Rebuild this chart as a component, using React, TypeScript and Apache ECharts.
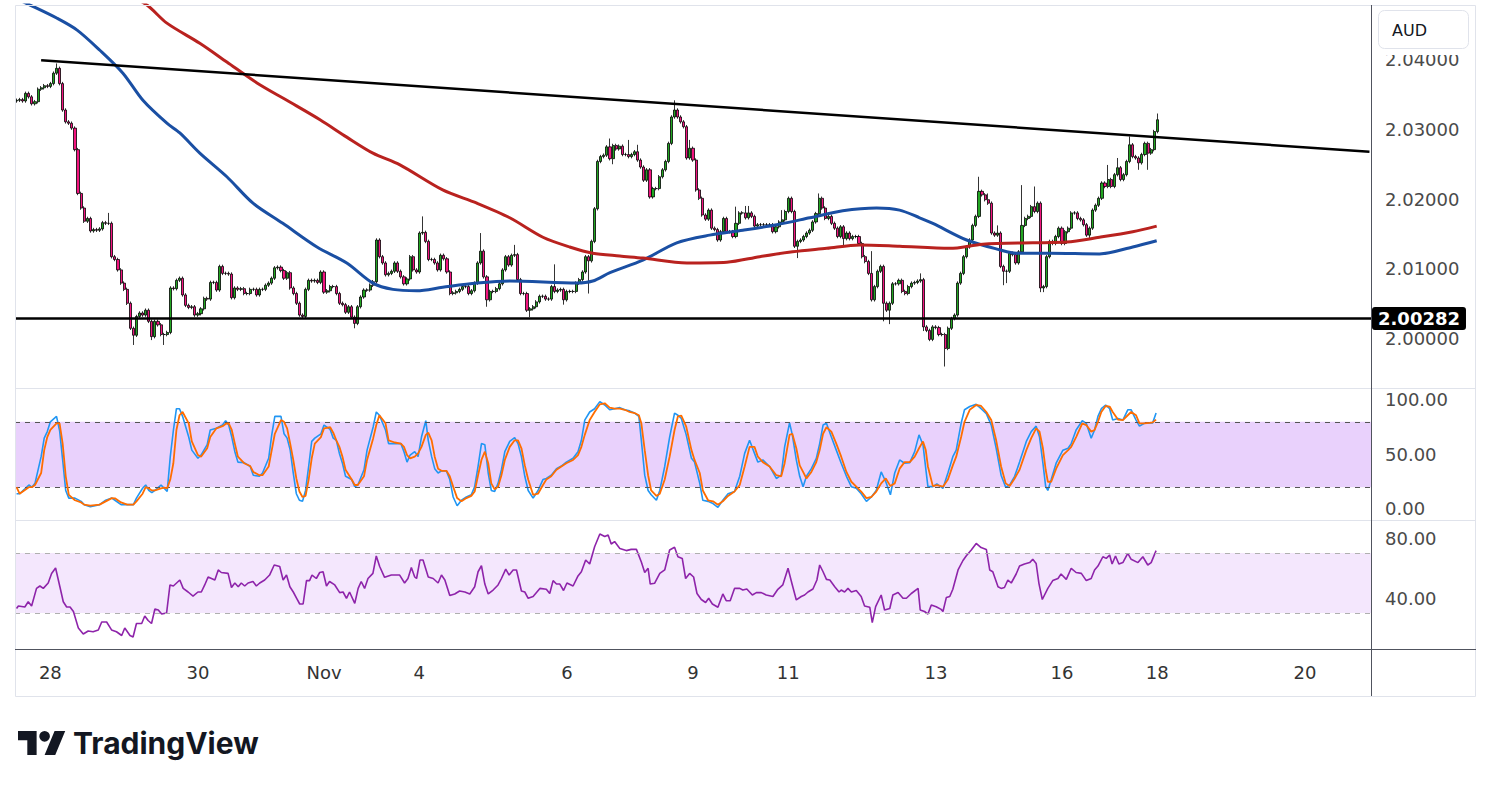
import React, { useEffect, useRef } from "react";
import * as echarts from "echarts";

// ---------- DATA ----------
// Hourly AUD price; values in pips (1e-4) above 2.0000
const BASE = 2.0;
const PIP = 0.0001;
const N_SLOTS = 441; // bar slots across the plot (incl. empty future space)

const firstOpen = 341;
const closes = [
  342, 343, 341, 352, 347, 337, 340, 358, 360, 363,
  362, 366, 381, 388, 366, 328, 311, 309, 302, 271,
  208, 187, 168, 172, 154, 156, 155, 157, 166, 165,
  165, 117, 113, 98, 79, 70, 50, 14, 4, 31,
  36, 33, 40, 24, 2, 24, 19, 5, 5, 8,
  72, 71, 83, 86, 62, 47, 44, 45, 33, 35,
  42, 57, 56, 80, 80, 69, 103, 93, 93, 92,
  58, 72, 70, 71, 64, 64, 70, 70, 62, 70,
  70, 76, 79, 86, 101, 102, 97, 86, 94, 72,
  64, 50, 33, 31, 70, 83, 82, 83, 80, 95,
  66, 68, 74, 74, 64, 50, 48, 37, 45, 30,
  21, 45, 59, 69, 69, 76, 81, 141, 117, 108,
  91, 93, 96, 108, 96, 88, 78, 85, 117, 98,
  95, 151, 152, 139, 113, 113, 108, 98, 119, 114,
  95, 64, 65, 67, 70, 74, 74, 64, 68, 79,
  108, 125, 88, 55, 67, 67, 71, 78, 98, 117,
  105, 119, 120, 84, 64, 64, 40, 42, 45, 52,
  60, 60, 56, 56, 74, 67, 69, 70, 55, 67,
  67, 67, 79, 84, 95, 117, 111, 139, 186, 254,
  261, 263, 275, 258, 277, 272, 276, 264, 264, 261,
  264, 268, 256, 246, 227, 242, 203, 215, 215, 232,
  242, 254, 280, 318, 328, 318, 311, 304, 259, 273,
  256, 213, 201, 177, 171, 184, 158, 156, 141, 153,
  172, 153, 153, 146, 165, 180, 180, 173, 180, 175,
  161, 163, 163, 163, 163, 163, 153, 160, 167, 170,
  182, 201, 182, 132, 139, 141, 146, 151, 155, 167,
  179, 201, 187, 172, 175, 165, 158, 146, 160, 143,
  151, 143, 146, 146, 136, 117, 110, 93, 55, 74,
  96, 103, 50, 40, 50, 78, 78, 83, 67, 64,
  74, 79, 80, 82, 84, 16, 11, -2, 16, 15,
  5, 5, -15, 14, 28, 33, 79, 93, 117, 131,
  141, 162, 175, 211, 206, 199, 194, 151, 148, 151,
  103, 96, 96, 122, 120, 108, 124, 162, 172, 175,
  189, 182, 194, 72, 74, 117, 139, 136, 146, 158,
  136, 153, 158, 180, 180, 172, 170, 163, 148, 158,
  184, 191, 201, 223, 218, 228, 218, 235, 245, 228,
  235, 254, 278, 261, 259, 252, 264, 280, 266, 271,
  297, 314,
];
const typicalWick = 2.5;
const highsAt: [number, number][] = [
  [13, 395], [30, 180], [132, 175], [151, 151], [162, 134], [175, 106], [193, 287], [199, 285],
  [202, 278], [214, 342], [219, 285], [234, 189], [237, 190], [238, 190], [249, 184], [261, 208],
  [278, 125], [294, 93], [313, 232], [316, 208], [319, 162], [327, 220], [331, 218], [355, 249],
  [358, 259], [362, 290], [371, 323],
];
const lowsAt: [number, number][] = [
  [38, -10], [44, -3], [48, -10], [110, 14], [153, 45], [167, 30], [178, 48], [186, 64],
  [194, 250], [254, 115], [269, 132], [282, 24], [284, 20], [295, 10], [302, -41], [321, 76],
  [322, 79], [333, 66], [334, 66], [349, 141], [365, 242], [368, 242],
];

// moving averages [bar index, pips]
const maBlue: [number, number][] = [
  [-0.5, 489], [4.4, 479], [13.2, 460], [19.7, 443], [27.1, 414], [34.6, 381], [41.1, 342],
  [48.9, 309], [53.1, 295], [59.6, 266], [68.4, 232], [76.9, 194], [86.6, 165], [97.7, 131],
  [107.4, 108], [115.9, 79], [122.4, 70], [130.2, 68], [138.6, 73], [149.7, 79], [160.4, 82],
  [182.2, 79], [187.4, 82], [193, 94], [203.7, 112], [214.7, 137], [225.4, 148], [236.2, 155],
  [247.2, 163], [258, 173], [268.7, 183], [279.7, 187], [287.2, 184], [293.7, 173], [298, 165],
  [309, 141], [319.7, 127], [325.2, 122], [336, 122], [352.2, 121], [363, 131], [370.8, 140],
];
const maRed: [number, number][] = [
  [33.6, 501], [42.4, 479], [48.9, 453], [59.6, 424], [68.4, 397], [78.2, 367], [87.9, 342],
  [98.7, 314], [107.4, 289], [115.9, 266], [124.7, 249], [138.6, 213], [149.7, 194], [160.4, 173],
  [171.2, 145], [179.9, 131], [187.4, 122], [196.2, 118], [203.7, 115], [218, 108], [231, 109],
  [241.7, 117], [252.4, 124], [263.5, 129], [274.2, 134], [287.2, 132], [303.5, 129], [314.2, 135],
  [330.5, 137], [341.5, 138], [352.2, 145], [363, 153], [370.8, 161],
];
const trendLine: [number, number][] = [[8, 399.5], [440, 268]];
const supportLevel = 2.00282;

// Stochastic %K / %D  [bar index, value]
const stochK: [number, number][] = [
  [0, 14], [1, 14], [4, 22], [5, 20], [6, 23.5], [8, 48], [9, 65], [10, 71], [11, 80], [13, 85], [14, 72],
  [15, 45], [16, 17], [17, 10], [19, 10], [21, 7], [22, 4], [24, 2], [27, 4], [29, 8], [31, 10], [32, 8],
  [34, 4], [36, 4], [38, 4], [39, 10], [41, 19], [42, 22], [43, 17], [44, 15], [45, 17], [47, 22], [48, 19],
  [49, 16], [50, 48], [51, 72], [52, 92], [53, 92], [54, 85], [56, 66], [57, 54], [59, 46.5], [60, 49.5],
  [62, 59], [63, 72.5], [65, 74], [67, 77], [68, 81], [69, 77], [70, 66], [71, 52.6], [72, 43], [74, 42.5],
  [76, 39], [77, 31], [79, 30], [80, 33], [82, 46.5], [83, 68], [84, 85], [86, 85], [87, 69], [88, 65],
  [89, 54], [90, 33], [91, 14], [92, 8], [93, 7], [94, 17], [95, 39], [96, 62], [97, 65], [99, 69],
  [100, 77], [102, 73], [103, 65], [104, 63], [105, 51], [106, 42], [107, 30], [109, 27], [110, 20.5],
  [111, 22], [113, 36], [114, 54], [116, 75.5], [117, 89], [118, 86], [120, 72.5], [121, 60], [123, 60],
  [125, 60], [126, 52.6], [127, 43], [128, 49.5], [129.5, 52.6], [130.6, 48], [131.7, 66], [133.1, 81],
  [133.9, 63], [135, 48], [136, 37], [137.1, 33], [138.2, 35], [139.8, 35], [140.9, 27], [142, 11],
  [143.3, 3], [144.7, 8], [146.3, 11], [147.9, 13], [149, 20.5], [150.1, 39], [151.2, 60], [152.3, 59],
  [153.4, 33], [154.4, 17], [155.5, 16], [156.6, 23.5], [157.7, 36], [158.8, 52.6], [160.4, 62], [162, 65.4],
  [163.1, 60], [164.2, 48], [165.3, 30], [166.4, 17], [168, 10], [169.6, 17], [171.2, 27], [172.3, 28],
  [173.9, 31], [175.6, 37], [177.2, 39.4], [178.8, 43], [181, 46.5], [182.6, 52.6], [183.7, 63],
  [184.8, 81.6], [186.4, 89], [188, 92], [189.7, 98.5], [191.3, 95.4], [192.9, 91], [194.5, 92],
  [196.2, 93], [197.8, 91], [199.4, 90], [201, 88], [202.4, 85], [203.2, 63], [204.3, 31], [205.4, 17],
  [206.4, 13], [208.1, 8], [209.2, 17], [210.8, 39], [212.4, 66], [214, 88], [215.1, 86], [216.2, 83],
  [217.8, 68], [219.5, 46.5], [220.5, 43], [222.2, 23.5], [223.2, 8], [224.9, 7], [226.5, 5], [228.1, 1.5],
  [229.7, 8], [231.4, 14], [233.5, 16], [235.2, 30], [236.8, 51], [238.4, 63], [240, 51], [241.1, 43],
  [242.7, 45], [244.9, 39], [247.1, 28], [248.7, 31], [249.8, 57], [251.4, 79], [252.3, 68], [253.6, 45],
  [254.7, 30], [255.8, 20.5], [256.9, 30], [258.5, 37], [260.1, 46.5], [261.2, 60], [262.3, 77],
  [263.4, 78.6], [265, 66], [266.6, 54], [268.2, 42], [269.9, 30], [271.5, 20.5], [273.1, 19], [274.7, 14],
  [276.4, 7], [278, 11], [279.6, 17], [281.2, 34], [282.7, 25], [284.2, 13], [285.6, 33], [287.2, 45],
  [288.8, 42], [290.5, 42.5], [292.1, 52.6], [293.5, 68], [294.8, 59], [295.7, 37], [296.4, 20.5],
  [298, 20.5], [299.3, 23], [301.3, 19], [302.9, 33], [304.5, 48], [305.6, 54], [307.2, 78.6], [308.3, 91],
  [310, 94], [312.1, 96], [313.7, 92], [315.4, 87.5], [317, 77], [318.6, 55.7], [320.2, 31], [321.7, 20],
  [323, 22], [324.6, 30], [326.2, 43], [328.4, 62], [330, 71], [331.6, 76], [332.7, 66], [333.8, 42],
  [334.7, 20.5], [335.4, 17], [336.5, 27], [338.1, 42], [340.3, 54], [342, 55.7], [343, 60], [344.6, 72.5],
  [346.6, 81], [347.9, 78.6], [349.5, 65], [350.6, 72.5], [351.7, 85], [352.8, 92], [354.2, 95.4],
  [355.5, 92], [356.5, 81.6], [358.2, 83], [359.8, 81.6], [361.4, 91], [362.5, 91], [364.1, 81.6],
  [365.2, 76], [366.8, 78.6], [368.5, 79], [369.5, 79], [370.6, 88],
];
const stochD: [number, number][] = [
  [0, 20], [1, 14], [4, 20], [5, 20], [6, 22], [8, 33], [9, 54], [10, 66], [11, 72.5], [13, 78.6], [14, 78.6],
  [15, 60], [16, 30], [17, 13], [19, 8], [21, 6], [22, 4], [24, 3], [27, 4], [29, 7], [31, 10], [32, 9.8],
  [34, 6], [36, 4], [38, 4], [39, 7], [41, 14], [42, 20], [43, 19], [44, 17], [45, 17], [47, 19], [48, 19.6],
  [49, 19], [50, 27], [51, 42], [52, 72.5], [53, 86], [54, 89], [56, 78.6], [57, 62], [59, 49.5], [60, 48],
  [62, 55.7], [63, 66], [65, 74], [67, 76], [68, 78], [69, 78.6], [70, 72.5], [71, 60], [72, 48], [74, 42],
  [76, 39.4], [77, 34], [79, 31], [80, 31], [82, 39], [83, 54], [84, 69], [86, 81.6], [87, 80], [88, 74],
  [89, 60], [90, 45], [91, 28], [92, 16], [93, 11], [94, 12], [95, 27], [96, 46.5], [97, 60], [99, 66],
  [100, 74], [102, 75], [103, 70], [104, 63], [105, 57], [106, 48], [107, 36], [109, 27], [110, 22],
  [111, 22], [113, 30], [114, 45], [116, 65], [117, 77], [118, 86], [120, 78.6], [121, 63], [123, 61],
  [125, 60], [126, 57], [127, 49.5], [128, 46.5], [129.5, 48], [130.6, 51], [131.7, 57], [133.1, 68],
  [133.9, 70], [135, 63], [136, 48], [137.1, 37], [138.2, 35], [139.8, 35], [140.9, 30], [142, 20.5],
  [143.3, 10], [144.7, 7], [146.3, 10], [147.9, 12], [149, 16], [150.1, 31], [151.2, 45], [152.3, 52.6],
  [153.4, 42], [154.4, 23.5], [155.5, 18], [156.6, 20.5], [157.7, 31], [158.8, 45], [160.4, 57], [162, 63],
  [163.1, 63], [164.2, 55.7], [165.3, 40], [166.4, 27], [168, 13], [169.6, 14], [171.2, 22], [172.3, 27],
  [173.9, 30], [175.6, 36], [177.2, 39], [178.8, 42], [181, 45], [182.6, 49.5], [183.7, 57], [184.8, 68],
  [186.4, 81.6], [188, 89], [189.7, 96], [191.3, 97], [192.9, 93], [194.5, 92], [196.2, 92], [197.8, 91],
  [199.4, 89], [201, 88], [202.4, 86], [203.2, 78.6], [204.3, 54], [205.4, 31], [206.4, 17], [208.1, 12],
  [209.2, 14], [210.8, 27], [212.4, 48], [214, 72.5], [215.1, 85], [216.2, 85.6], [217.8, 75.5],
  [219.5, 54], [220.5, 45], [222.2, 33], [223.2, 17], [224.9, 8], [226.5, 7], [228.1, 4], [229.7, 7],
  [231.4, 12], [233.5, 16], [235.2, 22], [236.8, 39], [238.4, 57], [240, 57], [241.1, 48], [242.7, 43],
  [244.9, 39], [247.1, 31], [248.7, 30], [249.8, 42], [251.4, 68], [252.3, 69], [253.6, 55.7], [254.7, 40],
  [255.8, 34], [256.9, 28], [258.5, 34], [260.1, 43], [261.2, 54], [262.3, 69], [263.4, 75], [265, 71],
  [266.6, 60], [268.2, 48], [269.9, 34], [271.5, 25], [273.1, 20.5], [274.7, 16], [276.4, 10], [278, 11],
  [279.6, 16], [281.2, 23.5], [282.7, 28], [284.2, 21], [285.6, 23.5], [287.2, 37], [288.8, 43],
  [290.5, 43], [292.1, 48], [293.5, 55.7], [294.8, 62], [295.7, 54], [296.4, 39], [298, 21], [299.3, 22],
  [301.3, 20.5], [302.9, 27], [304.5, 40], [305.6, 48], [307.2, 66], [308.3, 80], [310, 91], [312.1, 95.4],
  [313.7, 94.5], [315.4, 89], [317, 81.6], [318.6, 63], [320.2, 39], [321.7, 23.5], [323, 21], [324.6, 28],
  [326.2, 36], [328.4, 54], [330, 65], [331.6, 74], [332.7, 71], [333.8, 55.7], [334.7, 36], [335.4, 25],
  [336.5, 25], [338.1, 37], [340.3, 49.5], [342, 54], [343, 57], [344.6, 66], [346.6, 78.6], [347.9, 77],
  [349.5, 71], [350.6, 72.5], [351.7, 80], [352.8, 89], [354.2, 94.5], [355.5, 94], [356.5, 89],
  [358.2, 82], [359.8, 81.6], [361.4, 86], [362.5, 89], [364.1, 86], [365.2, 78.6], [366.8, 78.6],
  [368.5, 79], [369.5, 79.5], [370.6, 82],
];

// RSI [bar index, value]
const rsi: [number, number][] = [
  [0, 33], [0.6, 34.7], [2.7, 34], [3.8, 37.5], [4.9, 34.7], [6.5, 46.4], [7.6, 48], [8.7, 46.4], [10.3, 50],
  [11.4, 56.4], [12.7, 60], [14.1, 47.5], [15.2, 37.5], [16.3, 34], [17.4, 34], [18.5, 31], [20.1, 20],
  [21.7, 16], [23.3, 18], [24.9, 17.5], [26.6, 18.7], [27.7, 24], [29.3, 24], [30.9, 18.7], [32.5, 17.5],
  [34.2, 15], [35.2, 20], [36.9, 15], [37.9, 14], [39, 23], [40.7, 23], [41.7, 28], [42.8, 25], [43.9, 23],
  [45, 32.7], [46.1, 32], [47.2, 29.3], [48.8, 30], [49.9, 48.7], [51, 48], [53.1, 52], [54.2, 46.4],
  [55.8, 44], [57.4, 41.3], [59, 44], [60.1, 44], [61.2, 48.7], [62.3, 54], [63.4, 53], [64.5, 52],
  [65.6, 58.7], [66.6, 57], [68.8, 56.4], [69.9, 47], [71, 50], [72.1, 47.5], [73.1, 50], [74.2, 48],
  [75.3, 50], [76.9, 51], [78, 48], [79.1, 50], [80.7, 52], [82.3, 55.3], [83.8, 62], [85.6, 61], [86.7, 52],
  [87.8, 55.3], [88.9, 47.5], [90, 44], [91.1, 39.8], [92.1, 36], [93.2, 36], [94.3, 51.6], [95.3, 51.6],
  [96.1, 55.3], [97.5, 53], [98.6, 57], [99.7, 57.5], [100.8, 48], [101.8, 51], [103.5, 48.7], [105.1, 43.6],
  [106.2, 44], [107.3, 39.8], [108.3, 44], [110, 36.4], [111.1, 46.4], [112.1, 51], [113.2, 46.4],
  [114.3, 53], [115.9, 56.4], [117, 68], [118.1, 61], [119.7, 53.8], [121.9, 55.3], [124.6, 55.3],
  [126.2, 50], [127.3, 53], [128.4, 60.4], [129.5, 54], [130.1, 53], [131.2, 65.3], [132.2, 65.3],
  [133.9, 54], [135.5, 53], [137.1, 50], [138.2, 55.3], [139.3, 52], [140.9, 41.6], [142.5, 42.7],
  [144.1, 44.7], [145.8, 44], [147.4, 42.7], [149, 47.5], [150.1, 57.5], [151.2, 61.5], [152.3, 49.3],
  [153.4, 42.7], [155, 45.3], [156.6, 48.7], [157.7, 53], [159.1, 59.3], [160.2, 55.3], [161.5, 58.7],
  [162.6, 58.7], [164.2, 44.7], [165.3, 44], [166.4, 39.8], [168, 41], [170.2, 46.4], [172.3, 45.8],
  [173.4, 43], [174.5, 51.6], [175.6, 49.3], [176.7, 49.3], [177.9, 45], [179, 50], [181, 48],
  [182.6, 54.7], [183.7, 57.5], [185.1, 65.3], [186.4, 62.7], [188, 74.2], [189.7, 82.7], [191.3, 81],
  [192.4, 82], [193.4, 76], [194.5, 77.6], [196.2, 73], [198.3, 71.6], [199.9, 72.4], [201.6, 72.4],
  [203.2, 64], [204.3, 57], [205.4, 59.8], [206.1, 49.3], [207.5, 49.8], [209.2, 56.4], [210.8, 58.7],
  [212.4, 72], [214, 73.8], [215.1, 67.5], [216.5, 66.4], [217.6, 53], [218.9, 56.4], [220.2, 54],
  [221.3, 43], [222.7, 39], [224.1, 37], [225.1, 39.8], [226.3, 36], [228.1, 33.8], [229.7, 42.7],
  [230.8, 38.2], [232.1, 38.2], [233.5, 46.4], [235.2, 46.4], [236.2, 45.3], [237.5, 46], [239.3, 42],
  [240.6, 43.6], [242.2, 43.6], [243.8, 42], [246, 41], [247.6, 45.8], [249.2, 48.7], [250.9, 59.8],
  [252.3, 48.7], [253.6, 38.7], [255.2, 41], [256.3, 42], [257.4, 44], [259, 46], [260.3, 52], [261.2, 62],
  [262.3, 57.5], [263.4, 52.4], [264.5, 52], [266.1, 47.5], [267.5, 44], [268.2, 45.3], [269.3, 44],
  [270.4, 46.4], [271.5, 44], [273.1, 45], [274.7, 41], [275.8, 34.7], [277.5, 33.8], [278.3, 23.6],
  [279.4, 34.2], [281.2, 42], [282.3, 32], [284, 33], [285, 42], [286.7, 43.6], [288.3, 39.8], [289.4, 39.8],
  [291, 43], [293.2, 46.4], [293.9, 32], [295.3, 31], [296.4, 29.3], [297.5, 35.3], [299.1, 34.2],
  [300.7, 32.4], [301.3, 31], [302.4, 40.4], [303.5, 41], [304.5, 45.8], [306.2, 58.7], [307.8, 65],
  [308.9, 68.2], [310.5, 72], [312.1, 76.4], [313.7, 73.6], [315.4, 72.4], [316.5, 58.7], [317.5, 57.5],
  [319.2, 47.5], [320.2, 46.4], [321.3, 47], [322.4, 52], [323.5, 50], [325.1, 56], [326.2, 61.3],
  [327.8, 62.7], [329.5, 63.6], [330.5, 65.8], [331.6, 63], [332.5, 49.8], [333.6, 39], [335.4, 46.4],
  [337, 51.6], [338.7, 53], [339.7, 56], [341.4, 52.4], [343, 59.8], [344.6, 57], [346.3, 56.4],
  [347.9, 51.6], [349.5, 53], [350.6, 58.7], [351.7, 61.3], [353.3, 67.5], [354.4, 66.4], [355.5, 68.7],
  [356.3, 62.7], [357.4, 68], [358.5, 62.7], [359.8, 63.6], [361.4, 69.8], [362.5, 65.8], [364.7, 63.6],
  [366.3, 67.5], [367.9, 62], [369, 63.6], [370.6, 71.6],
];

// axis ticks
const xTickIndex = [11, 59, 100, 131, 179, 220, 251, 299, 340, 371, 419];
const xTickText = ["28", "30", "Nov", "4", "6", "9", "11", "13", "16", "18", "20"];
const priceTicks = [2.0, 2.01, 2.02, 2.03, 2.04];
const stochTicks = [0, 50, 100];
const rsiTicks = [40, 80];

// ---------- helpers ----------
const price = (p: number) => +(BASE + p * PIP).toFixed(5);
const toPrice = (arr: [number, number][]) => arr.map(([i, p]) => [i, price(p)]);

echarts.graphic.registerShape(
  "tvlogo",
  echarts.graphic.extendPath(
    "M14 22H7V11H0V4h14v18z M28 22h-8l7.5-18h8L28 22z M24 8a4 4 0 1 1-8 0a4 4 0 1 1 8 0z",
    {}
  ) as any
);

const FONT = "DejaVu Sans";
const AXIS_TXT = "#4a4a4a";

function buildOption() {
  const highMap = new Map(highsAt);
  const lowMap = new Map(lowsAt);
  const candleData = closes.map((c, i) => {
    const o = i === 0 ? firstOpen : closes[i - 1];
    const h = highMap.has(i) ? (highMap.get(i) as number) : Math.max(o, c) + typicalWick;
    const l = lowMap.has(i) ? (lowMap.get(i) as number) : Math.min(o, c) - typicalWick;
    return [price(o), price(c), price(l), price(h)];
  });
  const cats = Array.from({ length: N_SLOTS }, (_, i) => String(i));
  const labelCats = Array.from({ length: N_SLOTS }, (_, i) => {
    const k = xTickIndex.indexOf(i);
    return k >= 0 ? xTickText[k] : "";
  });

  const left = 15;
  const width = 1356;
  const yLabel = (vals: number[], dec: number) => ({
    customValues: vals,
    formatter: (v: number) => v.toFixed(dec),
    color: AXIS_TXT,
    fontSize: 18,
    fontFamily: FONT,
    margin: 14,
  });
  const hiddenY = {
    axisLine: { show: false },
    axisTick: { show: false },
    splitLine: { show: false },
  };

  return {
    animation: false,
    backgroundColor: "#ffffff",
    grid: [
      { left, top: 5, width, height: 383, containLabel: false, outerBoundsMode: "none" },
      { left, top: 388, width, height: 132, containLabel: false, outerBoundsMode: "none" },
      { left, top: 520, width, height: 129, containLabel: false, outerBoundsMode: "none" },
    ],
    xAxis: [
      { type: "category", gridIndex: 0, data: cats, boundaryGap: true, show: false },
      { type: "value", gridIndex: 0, min: -0.5, max: N_SLOTS - 0.5, show: false },
      { type: "value", gridIndex: 1, min: -0.5, max: N_SLOTS - 0.5, show: false },
      { type: "value", gridIndex: 2, min: -0.5, max: N_SLOTS - 0.5, show: false },
      {
        type: "category",
        gridIndex: 2,
        data: labelCats,
        boundaryGap: true,
        position: "bottom",
        axisLine: { show: false },
        axisTick: { show: false },
        splitLine: { show: false },
        axisLabel: { interval: 0, color: "#333333", fontSize: 18, fontFamily: FONT, margin: 14 },
      },
    ],
    yAxis: [
      {
        type: "value", gridIndex: 0, position: "right", min: 1.99281, max: 2.04791,
        axisLabel: yLabel(priceTicks, 5), ...hiddenY,
      },
      {
        type: "value", gridIndex: 1, position: "right", min: -10.1, max: 111,
        axisLabel: yLabel(stochTicks, 2), ...hiddenY,
      },
      {
        type: "value", gridIndex: 2, position: "right", min: 6, max: 92,
        axisLabel: yLabel(rsiTicks, 2), ...hiddenY,
      },
    ],
    series: [
      {
        type: "candlestick",
        xAxisIndex: 0,
        yAxisIndex: 0,
        data: candleData,
        barWidth: 2.6,
        silent: true,
        z: 3,
        itemStyle: {
          color: "#22a622",
          color0: "#f2147f",
          borderColor: "#000000",
          borderColor0: "#000000",
          borderWidth: 0.8,
        },
      },
      {
        type: "line", xAxisIndex: 1, yAxisIndex: 0, data: toPrice(maBlue), smooth: 0.3,
        showSymbol: false, silent: true, z: 4, lineStyle: { color: "#1a4fa3", width: 3 },
      },
      {
        type: "line", xAxisIndex: 1, yAxisIndex: 0, data: toPrice(maRed), smooth: 0.3,
        showSymbol: false, silent: true, z: 4, lineStyle: { color: "#b9221f", width: 3 },
      },
      {
        type: "line", xAxisIndex: 1, yAxisIndex: 0, data: toPrice(trendLine),
        showSymbol: false, silent: true, z: 5, lineStyle: { color: "#000000", width: 2.5 },
      },
      {
        // horizontal support level with its price tag on the scale
        type: "line", xAxisIndex: 1, yAxisIndex: 0,
        data: [[-0.5, supportLevel], [N_SLOTS - 0.5, supportLevel]],
        showSymbol: false, silent: true, z: 5, clip: false,
        lineStyle: { color: "#000000", width: 2.5 },
        endLabel: {
          show: true,
          distance: 1,
          formatter: () => supportLevel.toFixed(5),
          backgroundColor: "#000000",
          color: "#ffffff",
          fontSize: 18,
          fontWeight: "bold",
          fontFamily: FONT,
          padding: [3, 6, 2, 6],
          borderRadius: 3,
        },
      },
      {
        type: "line", xAxisIndex: 2, yAxisIndex: 1, data: stochK, showSymbol: false, silent: true,
        z: 4, lineStyle: { color: "#2196f3", width: 1.6 },
        markArea: {
          silent: true,
          itemStyle: { color: "#e9d1fc" },
          data: [[{ yAxis: 20 }, { yAxis: 80 }]],
        },
        markLine: {
          silent: true,
          symbol: ["none", "none"],
          label: { show: false },
          lineStyle: { color: "#555555", width: 1, type: [5, 5] },
          data: [{ yAxis: 80 }, { yAxis: 20 }],
        },
      },
      {
        type: "line", xAxisIndex: 2, yAxisIndex: 1, data: stochD, showSymbol: false, silent: true,
        z: 5, lineStyle: { color: "#ff6d00", width: 1.8 },
      },
      {
        type: "line", xAxisIndex: 3, yAxisIndex: 2, data: rsi, showSymbol: false, silent: true,
        z: 4, lineStyle: { color: "#8e24aa", width: 1.6 },
        markArea: {
          silent: true,
          itemStyle: { color: "#f4e7fd" },
          data: [[{ yAxis: 30 }, { yAxis: 70 }]],
        },
        markLine: {
          silent: true,
          symbol: ["none", "none"],
          label: { show: false },
          lineStyle: { color: "#b0b0b0", width: 1, type: [5, 5] },
          data: [{ yAxis: 70 }, { yAxis: 30 }],
        },
      },
    ],
    graphic: [
      // frame & pane separators
      { type: "rect", z: 50, silent: true, shape: { x: 15.5, y: 5.5, width: 1460, height: 691 },
        style: { fill: "none", stroke: "#e0e3eb", lineWidth: 1 } },
      { type: "line", z: 50, silent: true, shape: { x1: 15, y1: 388.5, x2: 1476, y2: 388.5 },
        style: { stroke: "#e0e3eb", lineWidth: 1 } },
      { type: "line", z: 50, silent: true, shape: { x1: 15, y1: 520.5, x2: 1476, y2: 520.5 },
        style: { stroke: "#e0e3eb", lineWidth: 1 } },
      { type: "line", z: 50, silent: true, shape: { x1: 15, y1: 649.5, x2: 1476, y2: 649.5 },
        style: { stroke: "#50535e", lineWidth: 1 } },
      { type: "line", z: 50, silent: true, shape: { x1: 1371.5, y1: 5, x2: 1371.5, y2: 696 },
        style: { stroke: "#50535e", lineWidth: 1 } },
      // currency box
      { type: "rect", z: 60, silent: true, shape: { x: 1372, y: 6, width: 103, height: 49 },
        style: { fill: "#ffffff" } },
      { type: "rect", z: 61, silent: true, shape: { x: 1378.5, y: 10.5, width: 90, height: 38, r: 6 },
        style: { fill: "#ffffff", stroke: "#e0e3eb", lineWidth: 1 } },
      { type: "text", z: 62, silent: true, x: 1392, y: 30,
        style: { text: "AUD", fill: "#131722", fontSize: 16, fontFamily: FONT, verticalAlign: "middle" } },
      // TradingView logo
      { type: "tvlogo", z: 62, silent: true, x: 18, y: 725.7, scaleX: 1.33, scaleY: 1.33,
        style: { fill: "#131722" } },
      { type: "text", z: 62, silent: true, x: 73, y: 743,
        style: { text: "TradingView", fill: "#131722", fontSize: 30, fontWeight: 700,
          fontFamily: "Inter", verticalAlign: "middle" } },
    ],
  };
}

export default function App() {
  const ref = useRef<HTMLDivElement>(null);
  useEffect(() => {
    if (!ref.current) return;
    const chart = echarts.init(ref.current, undefined, { renderer: "svg" });
    chart.setOption(buildOption() as any);
    return () => chart.dispose();
  }, []);
  return (
    <div
      ref={ref}
      style={{ position: "fixed", left: 0, top: 0, width: 1491, height: 787, background: "#fff" }}
    />
  );
}
